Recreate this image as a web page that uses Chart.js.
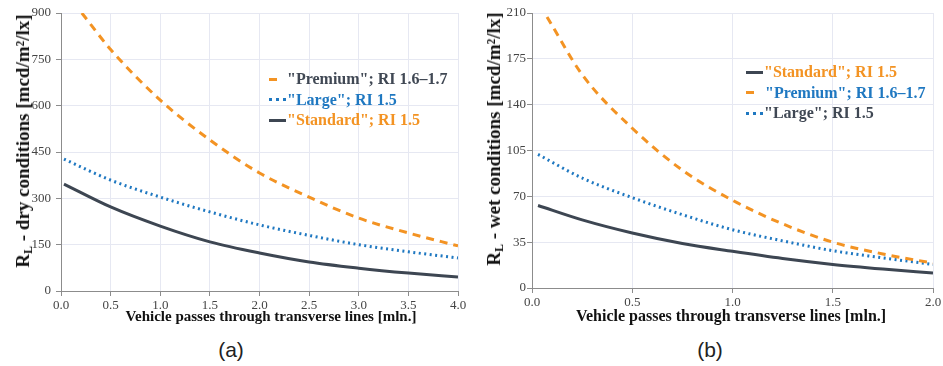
<!DOCTYPE html>
<html>
<head>
<meta charset="utf-8">
<script src="https://cdn.jsdelivr.net/npm/chart.js@4.4.1/dist/chart.umd.min.js"></script>
<style>
  html,body{margin:0;padding:0;background:#fff;}
  body{width:943px;height:366px;position:relative;overflow:hidden;}
  .wrap{position:absolute;top:0;height:330px;}
  .ytitle{position:absolute;font-family:"Liberation Serif",serif;font-weight:bold;font-size:19px;color:#111;
          white-space:nowrap;transform:translate(-50%,-50%) rotate(-90deg);}
  .ytitle sub{font-size:12px;vertical-align:-3px;}
  .xtitle{position:absolute;font-family:"Liberation Serif",serif;font-weight:bold;color:#111;
          white-space:nowrap;transform:translate(-50%,-50%);}
  .legend{position:absolute;font-family:"Liberation Serif",serif;font-weight:bold;font-size:16px;line-height:20.5px;}
  .legend .row{display:flex;align-items:center;white-space:nowrap;}
  .sw{display:inline-block;width:17px;height:0;margin-right:1px;}
  .cap{position:absolute;top:338px;font-family:"Liberation Sans",Arial,sans-serif;font-size:21px;color:#222;transform:translateX(-50%);}
</style>
</head>
<body>
<div class="wrap" style="left:0;width:470px;"><canvas id="cA"></canvas></div>
<div class="wrap" style="left:472px;width:471px;"><canvas id="cB"></canvas></div>

<div class="ytitle" style="left:24px;top:141px;">R<sub>L</sub> - dry conditions [mcd/m²/lx]</div>
<div class="ytitle" style="left:495px;top:139px;">R<sub>L</sub> - wet conditions [mcd/m²/lx]</div>
<div class="xtitle" style="left:271px;top:316px;font-size:15px;">Vehicle passes through transverse lines [mln.]</div>
<div class="xtitle" style="left:731px;top:316px;font-size:16px;">Vehicle passes through transverse lines [mln.]</div>

<div class="legend" style="left:269px;top:69px;">
  <div class="row"><span class="sw" style="width:8px;border-top:3px solid #F39323;margin-right:10px;"></span><span style="color:#404854">"Premium"; RI 1.6–1.7</span></div>
  <div class="row"><span class="sw" style="border-top:3px dotted #1F78C1;"></span><span style="color:#1F78C1">"Large"; RI 1.5</span></div>
  <div class="row"><span class="sw" style="border-top:3px solid #3D4652;"></span><span style="color:#F39323">"Standard"; RI 1.5</span></div>
</div>
<div class="legend" style="left:746px;top:62px;">
  <div class="row"><span class="sw" style="border-top:3px solid #3D4652;"></span><span style="color:#F39323">"Standard"; RI 1.5</span></div>
  <div class="row"><span class="sw" style="width:8px;border-top:3px solid #F39323;margin-right:11px;"></span><span style="color:#1F78C1">"Premium"; RI 1.6–1.7</span></div>
  <div class="row"><span class="sw" style="border-top:3px dotted #1F78C1;"></span><span style="color:#404854">"Large"; RI 1.5</span></div>
</div>

<div class="cap" style="left:231px;">(a)</div>
<div class="cap" style="left:710px;">(b)</div>

<script>
// ---- Chart (a): dry conditions ----
const xDry        = [0.03, 0.5, 1.0, 1.5, 2.0, 2.5, 3.0, 3.5, 4.0];
const xDryPremium = [0.21, 0.5, 1.0, 1.5, 2.0, 2.5, 3.0, 3.5, 4.0];
const dryPremium  = [900, 782, 618, 489, 382, 304, 236, 188, 146];
const dryLarge    = [427, 359, 304, 256, 214, 180, 150, 127, 107];
const dryStandard = [346, 272, 210, 159, 123, 94, 74, 58, 45];
const dryYTicks   = [0, 150, 300, 450, 600, 750, 900];
const dryXTicks   = [0.0, 0.5, 1.0, 1.5, 2.0, 2.5, 3.0, 3.5, 4.0];

// ---- Chart (b): wet conditions ----
const xWet        = [0.03, 0.25, 0.5, 0.75, 1.0, 1.25, 1.5, 1.75, 2.0];
const xWetPremium = [0.075, 0.25, 0.5, 0.75, 1.0, 1.25, 1.5, 1.75, 2.0];
const wetPremium  = [207, 163, 122, 90, 67, 49, 35, 26, 19];
const wetLarge    = [102, 84, 69, 56, 44.5, 36, 28.5, 23, 18];
const wetStandard = [63, 52, 42, 34, 28, 22.5, 18, 14.5, 11.5];
const wetYTicks   = [0, 35, 70, 105, 140, 175, 210];
const wetXTicks   = [0.0, 0.5, 1.0, 1.5, 2.0];

const ORANGE = '#F39323', BLUE = '#1F78C1', DARK = '#3D4652';
const TICK_FONT = '13px "Liberation Serif"';
const pts = (xs, ys) => xs.map((x, i) => ({x, y: ys[i]}));

// Draws the tick labels of the library's own scales in a serif face.
const serifTicks = {
  id: 'serifTicks',
  afterDraw(chart, args, opts) {
    const ctx = chart.ctx;
    ctx.save();
    ctx.font = TICK_FONT;
    ctx.fillStyle = '#444';
    const sx = chart.scales.x, sy = chart.scales.y;
    ctx.textAlign = 'center'; ctx.textBaseline = 'top';
    sx.ticks.forEach(t => ctx.fillText(Number(t.value).toFixed(1), sx.getPixelForValue(t.value), sx.top + 8));
    ctx.textAlign = 'right'; ctx.textBaseline = 'middle';
    sy.ticks.forEach(t => ctx.fillText(String(t.value), sy.right - opts.gap, sy.getPixelForValue(t.value)));
    ctx.restore();
  }
};

function makeChart(id, cfg) {
  return new Chart(document.getElementById(id), {
    type: 'line',
    data: {
      datasets: [
        {data: pts(cfg.xP, cfg.premium), borderColor: ORANGE, borderWidth: 3, borderDash: [8, 6], order: 1},
        {data: pts(cfg.x, cfg.large), borderColor: BLUE, borderWidth: 3, borderDash: [2, 3.5], order: 2},
        {data: pts(cfg.x, cfg.standard), borderColor: DARK, borderWidth: 3, order: 3}
      ]
    },
    plugins: [serifTicks],
    options: {
      responsive: true,
      maintainAspectRatio: false,
      animation: false,
      elements: {point: {radius: 0}, line: {cubicInterpolationMode: 'monotone', borderCapStyle: 'butt'}},
      layout: {padding: {top: 13, right: cfg.padRight, left: 0, bottom: 0}},
      plugins: {legend: {display: false}, tooltip: {enabled: false}, serifTicks: {gap: cfg.gap}},
      scales: {
        x: {
          type: 'linear', min: 0, max: cfg.xMax,
          afterBuildTicks: s => { s.ticks = cfg.xTicks.map(v => ({value: v})); },
          afterFit: s => { s.height = cfg.xH; },
          border: {color: '#8c8c8c', width: 1},
          grid: {color: '#e6e8f2', tickColor: '#8c8c8c', tickLength: 5},
          ticks: {display: false}
        },
        y: {
          min: 0, max: cfg.yMax,
          afterBuildTicks: s => { s.ticks = cfg.yTicks.map(v => ({value: v})); },
          afterFit: s => { s.width = cfg.yW; },
          border: {color: '#8c8c8c', width: 1},
          grid: {color: '#e6e8f2', tickColor: '#8c8c8c', tickLength: 5},
          ticks: {display: false}
        }
      }
    }
  });
}

makeChart('cA', {x: xDry, xP: xDryPremium, premium: dryPremium, large: dryLarge, standard: dryStandard,
                 xMax: 4, yMax: 900, xTicks: dryXTicks, yTicks: dryYTicks, yW: 61, xH: 39, padRight: 12, gap: 10});
makeChart('cB', {x: xWet, xP: xWetPremium, premium: wetPremium, large: wetLarge, standard: wetStandard,
                 xMax: 2, yMax: 210, xTicks: wetXTicks, yTicks: wetYTicks, yW: 60, xH: 42, padRight: 10, gap: 6});
</script>
</body>
</html>
